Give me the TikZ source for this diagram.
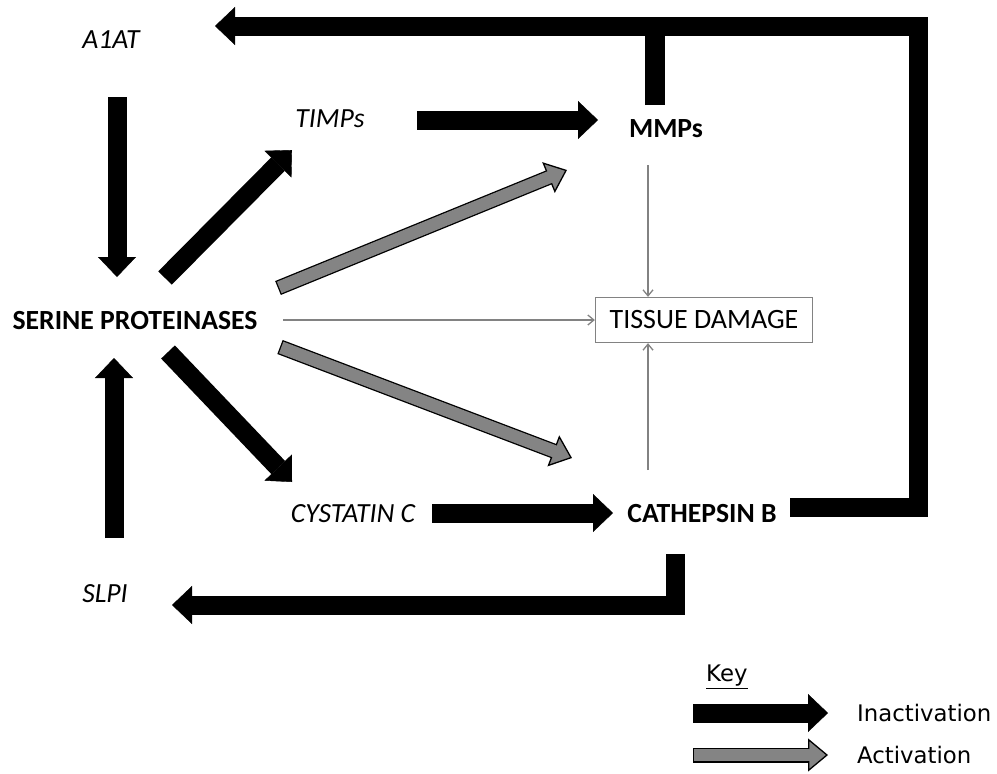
\documentclass[tikz,border=0pt]{standalone}
\usepackage{fontspec}
\setmainfont{Carlito}
\newfontfamily\keyfont{DejaVu Sans}
\usetikzlibrary{arrows.meta}
\definecolor{hatch}{RGB}{132,132,132}
\definecolor{thin}{RGB}{130,130,130}
\newcommand\actarrow[2]{%
  \draw[line width=15pt,-{Triangle[width=33pt,length=20pt,line width=1.3pt,fill=hatch]}] (#1) -- (#2);
  \draw[line width=12.4pt,hatch,shorten <=1.3pt,shorten >=13pt] (#1) -- (#2);}
\begin{document}
\begin{tikzpicture}[x=1pt,y=-1pt,
  ilbl/.style={font=\fontsize{27.7}{31}\selectfont\itshape,inner sep=0pt},
  blbl/.style={font=\fontsize{27.7}{31}\selectfont\bfseries,inner sep=0pt},
  tbox/.style={draw=thin,line width=1.3pt,minimum width=217pt,minimum height=45pt,
               font=\fontsize{28}{31}\selectfont,inner sep=0pt},
  keytxt/.style={font=\keyfont\fontsize{22.8}{26}\selectfont,inner sep=0pt,anchor=west},
  inact/.style={line width=19pt,-{Triangle[width=38pt,length=20pt,line width=0.4pt]}},
  bar/.style={line width=19pt},
  flow/.style={draw=thin,line width=1.3pt,-{Straight Barb[length=6pt,width=10pt,line width=1.3pt]}}]
\useasboundingbox (0,0) rectangle (997,774);

% nodes
\node[ilbl] (a1at)   at (111,40)  {A1AT};
\node[ilbl] (timps)  at (330,119) {TIMPs};
\node[blbl] (mmps)   at (666,129) {MMPs};
\node[blbl] (serine) at (135,321) {SERINE PROTEINASES};
\node[tbox] (tissue) at (704,320) {TISSUE DAMAGE};
\node[ilbl] (cyst)   at (353,514) {CYSTATIN C};
\node[blbl] (cathb)  at (702,514) {CATHEPSIN B};
\node[ilbl] (slpi)   at (105,594) {SLPI};

% connector end points
\coordinate (a1atOut) at (117,97);
\coordinate (serIn1)  at (117,277);
\coordinate (slpiOut) at (114,538);
\coordinate (serIn2)  at (114,358);
\coordinate (serT)    at (165,278);
\coordinate (timpsIn) at (292,150);
\coordinate (serC)    at (168,352);
\coordinate (cystIn)  at (292,482);
\coordinate (timpsOut) at (417,120);
\coordinate (mmpsIn)  at (598,120);
\coordinate (cystOut) at (432,513);
\coordinate (cathIn)  at (613,513);
\coordinate (serA1)   at (278,288);
\coordinate (mmpsA)   at (567,170);
\coordinate (serA2)   at (280,347);
\coordinate (cathA)   at (572,458);
\coordinate (serF)    at (283,320);
\coordinate (mmpsF)   at (648,165);
\coordinate (cathF)   at (648,470);
\coordinate (mmpsUp)  at (655,105);
\coordinate (loopTop) at (655,26);
\coordinate (cathR)   at (790,507);
\coordinate (corner)  at (918,26);
\coordinate (a1atIn)  at (215,26);
\coordinate (cathD)   at (675,554);
\coordinate (slpiIn)  at (172,605);

% inactivation arrows
\draw[inact] (a1atOut) -- (serIn1);
\draw[inact] (slpiOut) -- (serIn2);
\draw[inact] (serT) -- (timpsIn);
\draw[inact] (serC) -- (cystIn);
\draw[inact] (timpsOut) -- (mmpsIn);
\draw[inact] (cystOut) -- (cathIn);
\draw[inact] (cathR) -| (corner) -- (a1atIn);
\draw[bar,line width=20pt] (mmpsUp) -- (loopTop);
\draw[inact] (cathD) |- (slpiIn);

% activation arrows
\actarrow{serA1}{mmpsA}
\actarrow{serA2}{cathA}

% thin arrows to tissue damage
\draw[flow] (serF) -- (tissue.west);
\draw[flow] (mmpsF) -- (mmpsF |- tissue.north);
\draw[flow] (cathF) -- (cathF |- tissue.south);

% key
\node[keytxt] (key) at (706,677) {\underline{Key}};
\coordinate (k1a) at (693,713);
\coordinate (k1b) at (828,713);
\coordinate (k2a) at (693,755);
\coordinate (k2b) at (828,755);
\draw[inact] (k1a) -- (k1b);
\actarrow{k2a}{k2b}
\node[keytxt] (kin) at (857,713) {Inactivation};
\node[keytxt] (kac) at (857,755) {Activation};
\end{tikzpicture}
\end{document}
